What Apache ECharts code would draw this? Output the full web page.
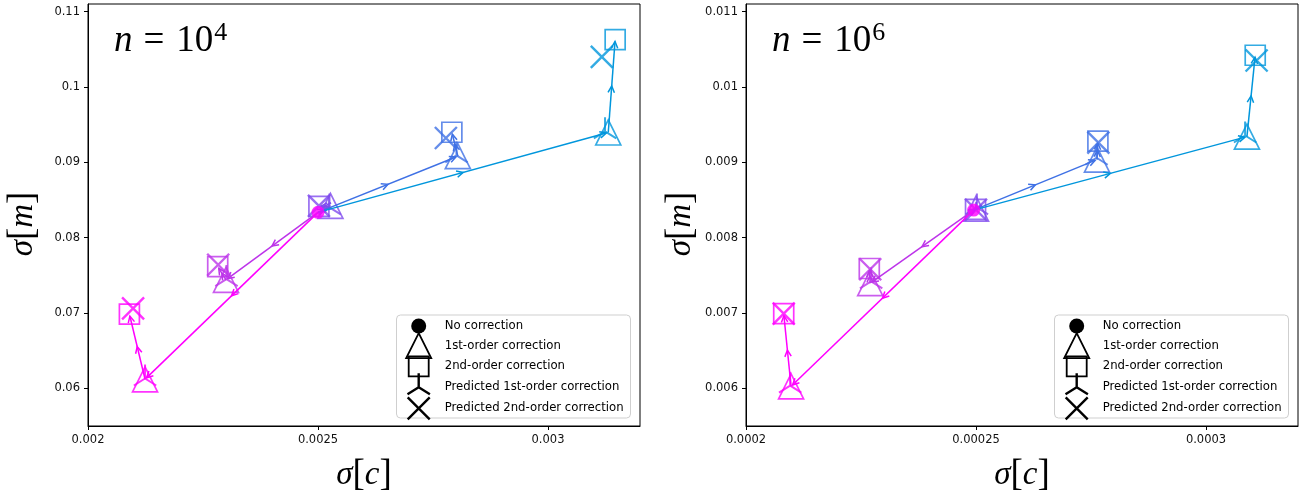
<!DOCTYPE html>
<html>
<head>
<meta charset="utf-8">
<script src="https://cdn.jsdelivr.net/npm/echarts@6/dist/echarts.min.js"></script>
<style>
  html, body { margin: 0; padding: 0; background: #fff; }
  #chart { width: 1307px; height: 496px; }
</style>
</head>
<body>
<div id="chart"></div>
<script>
// One colour per run, from magenta to blue
const runColors = ['#ff00ff', '#bd34ea', '#7f4bee', '#3f71e5', '#0096dc'];

const seriesNames = [
  'No correction',
  '1st-order correction',
  '2nd-order correction',
  'Predicted 1st-order correction',
  'Predicted 2nd-order correction'
];

// ---- n = 10^4 : points are [sigma_c, sigma_m] ----
const noCorrection4 = [0.002500, 0.08335];
const firstOrder4 = [
  [0.002124, 0.06120],
  [0.002300, 0.07440],
  [0.002527, 0.08420],
  [0.002804, 0.09080],
  [0.003131, 0.09395]
];
const secondOrder4 = [
  [0.002090, 0.06985],
  [0.002282, 0.07615],
  [0.002502, 0.08415],
  [0.002791, 0.09398],
  [0.003146, 0.10628]
];
const predFirst4 = [
  [0.002124, 0.06130],
  [0.002301, 0.07450],
  [0.002525, 0.08400],
  [0.002801, 0.09090],
  [0.003124, 0.09410]
];
const predSecond4 = [
  [0.002098, 0.07060],
  [0.002283, 0.07640],
  [0.002502, 0.08420],
  [0.002778, 0.09322],
  [0.003117, 0.10398]
];

// ---- n = 10^6 ----
const noCorrection6 = [0.0002495, 0.008365];
const firstOrder6 = [
  [0.0002098, 0.006025],
  [0.0002270, 0.007395],
  [0.0002500, 0.008385],
  [0.0002763, 0.009035],
  [0.0003089, 0.009340]
];
const secondOrder6 = [
  [0.0002082, 0.006990],
  [0.0002268, 0.007590],
  [0.0002499, 0.008375],
  [0.0002765, 0.009280],
  [0.0003107, 0.010420]
];
const predFirst6 = [
  [0.0002096, 0.006035],
  [0.0002272, 0.007420],
  [0.0002502, 0.008400],
  [0.0002762, 0.009060],
  [0.0003085, 0.009355]
];
const predSecond6 = [
  [0.0002082, 0.006990],
  [0.0002270, 0.007580],
  [0.0002500, 0.008370],
  [0.0002766, 0.009260],
  [0.0003110, 0.010350]
];

// Axis limits and tick values
const xRange4 = [0.002, 0.0032];
const yRange4 = [0.055, 0.111];
const xTicks4 = [0.002, 0.0025, 0.003];
const yTicks4 = [0.06, 0.07, 0.08, 0.09, 0.1, 0.11];

const xRange6 = [0.0002, 0.00032];
const yRange6 = [0.0055, 0.0111];
const xTicks6 = [0.0002, 0.00025, 0.0003];
const yTicks6 = [0.006, 0.007, 0.008, 0.009, 0.01, 0.011];

// Marker shapes drawn in a 28x28 box centred on the point
const ICON = {
  dot:  'path://M0,0M28,28M21.5,14A7.5,7.5,0,1,1,6.5,14A7.5,7.5,0,1,1,21.5,14Z',
  tri:  'path://M0,0M28,28M14,1.5L26.5,26.5L1.5,26.5Z',
  sq:   'path://M0,0M28,28M4,4L24,4L24,24L4,24Z',
  triDown: 'path://M0,0M28,28M14,14L14,0M14,14L25.2,21M14,14L2.8,21',
  cross: 'path://M0,0M28,28M3,3L25,25M25,3L3,25'
};

const fmt = v => String(+(+v).toPrecision(6));

// Line from start to end with open arrow heads at the middle and the end
function renderArrow(params, api) {
  const a = api.coord([api.value(0), api.value(1)]);
  const b = api.coord([api.value(2), api.value(3)]);
  const color = api.visual('color');
  const dx = b[0] - a[0], dy = b[1] - a[1];
  const len = Math.hypot(dx, dy) || 1;
  const ux = dx / len, uy = dy / len;
  const shrink = Math.min(2, len / 4);
  const end = [b[0] - ux * shrink, b[1] - uy * shrink];
  const mid = [(a[0] + b[0]) / 2, (a[1] + b[1]) / 2];
  const L = 6.5, W = 3.2;
  const head = tip => [
    [tip[0] - ux * L - uy * W, tip[1] - uy * L + ux * W],
    tip,
    [tip[0] - ux * L + uy * W, tip[1] - uy * L - ux * W]
  ];
  const style = { stroke: color, lineWidth: 1.5, fill: 'none' };
  return {
    type: 'group',
    children: [
      { type: 'line', shape: { x1: a[0], y1: a[1], x2: end[0], y2: end[1] }, style },
      { type: 'polyline', shape: { points: head(mid) }, style },
      { type: 'polyline', shape: { points: head(end) }, style }
    ]
  };
}

const serif = 'Liberation Serif';
const nameRich = {
  i: { fontFamily: serif, fontStyle: 'italic', fontSize: 33, color: '#000' },
  b: { fontFamily: serif, fontSize: 37, color: '#000' }
};

function axisBase(range, ticks) {
  return {
    type: 'value',
    min: range[0],
    max: range[1],
    axisLine: { show: true, onZero: false, lineStyle: { color: '#000', width: 1 } },
    axisTick: { show: true, inside: false, length: 4, customValues: ticks, lineStyle: { color: '#000', width: 1 } },
    splitLine: { show: false },
    axisLabel: { customValues: ticks, color: '#111', fontFamily: 'DejaVu Sans', fontSize: 11.5, formatter: fmt },
    nameLocation: 'middle'
  };
}

const panels = [
  { nc: noCorrection4, f: firstOrder4, s: secondOrder4, p1: predFirst4, p2: predSecond4,
    xr: xRange4, yr: yRange4, xt: xTicks4, yt: yTicks4, exp: '4' },
  { nc: noCorrection6, f: firstOrder6, s: secondOrder6, p1: predFirst6, p2: predSecond6,
    xr: xRange6, yr: yRange6, xt: xTicks6, yt: yTicks6, exp: '6' }
];

const gridLefts = [88, 746];
const grids = [], xAxes = [], yAxes = [], series = [], titles = [], legends = [], frames = [];

const legendData = [
  { name: seriesNames[0], icon: ICON.dot, itemStyle: { color: '#000', borderWidth: 0, opacity: 1 } },
  { name: seriesNames[1], icon: ICON.tri, itemStyle: { color: 'transparent', borderColor: '#000', borderWidth: 1.8, opacity: 1 } },
  { name: seriesNames[2], icon: ICON.sq, itemStyle: { color: 'transparent', borderColor: '#000', borderWidth: 1.8, opacity: 1 } },
  { name: seriesNames[3], icon: ICON.triDown, itemStyle: { color: 'transparent', borderColor: '#000', borderWidth: 2.4, opacity: 1 } },
  { name: seriesNames[4], icon: ICON.cross, itemStyle: { color: 'transparent', borderColor: '#000', borderWidth: 2.4, opacity: 1 } }
];

panels.forEach((p, k) => {
  const gl = gridLefts[k];
  grids.push({
    left: gl, top: 4, width: 552, height: 422,
    outerBoundsMode: 'none', containLabel: false,
    show: true, borderColor: '#000', borderWidth: 1, backgroundColor: 'transparent'
  });

  xAxes.push(Object.assign(axisBase(p.xr, p.xt), {
    gridIndex: k, name: '{i|σ}{b|[}{i|c}{b|]}', nameGap: 31,
    nameTextStyle: { rich: nameRich }
  }));
  yAxes.push(Object.assign(axisBase(p.yr, p.yt), {
    gridIndex: k, name: '{i|σ}{b|[}{i|m}{b|]}', nameGap: 46,
    nameTextStyle: { rich: nameRich, padding: [0, 18, 0, 0] }
  }));

  const hollow = (arr) => arr.map((pt, i) => ({ value: pt, itemStyle: { borderColor: runColors[i] } }));
  const base = { type: 'scatter', xAxisIndex: k, yAxisIndex: k, silent: true, symbolSize: 28,
    itemStyle: { color: 'transparent', borderWidth: 1.7 }, emphasis: { disabled: true } };

  series.push(Object.assign({}, base, { name: seriesNames[1], symbol: ICON.tri, data: hollow(p.f), z: 2 }));
  series.push(Object.assign({}, base, { name: seriesNames[2], symbol: ICON.sq, data: hollow(p.s), z: 2 }));
  series.push(Object.assign({}, base, { name: seriesNames[3], symbol: ICON.triDown, data: hollow(p.p1), z: 2,
    itemStyle: { color: 'transparent', borderWidth: 2 } }));
  series.push(Object.assign({}, base, { name: seriesNames[4], symbol: ICON.cross, data: hollow(p.p2), z: 2,
    itemStyle: { color: 'transparent', borderWidth: 2.4 } }));

  // arrows: no correction -> 1st order -> 2nd order, for every run
  const arrows = [];
  p.f.forEach((pt, i) => {
    arrows.push({ value: [p.nc[0], p.nc[1], pt[0], pt[1]], itemStyle: { color: runColors[i] } });
    arrows.push({ value: [pt[0], pt[1], p.s[i][0], p.s[i][1]], itemStyle: { color: runColors[i] } });
  });
  series.push({
    type: 'custom', name: 'arrows', xAxisIndex: k, yAxisIndex: k, silent: true, z: 3,
    renderItem: renderArrow, encode: { x: [0, 2], y: [1, 3] }, data: arrows
  });

  series.push(Object.assign({}, base, { name: seriesNames[0], symbol: 'circle', symbolSize: 13, z: 4,
    itemStyle: { color: runColors[0] }, data: [p.nc] }));

  titles.push({
    text: '{n|n}{e|=}{t|10}{s|' + p.exp + '}',
    left: gl + 21, top: 15,
    textStyle: {
      rich: {
        n: { fontFamily: serif, fontStyle: 'italic', fontSize: 37, lineHeight: 42, color: '#000', fontWeight: 'normal' },
        e: { fontFamily: serif, fontSize: 37, lineHeight: 42, color: '#000', fontWeight: 'normal', padding: [0, 12, 0, 11] },
        t: { fontFamily: serif, fontSize: 37, lineHeight: 42, color: '#000', fontWeight: 'normal' },
        s: { fontFamily: serif, fontSize: 26, lineHeight: 26, verticalAlign: 'top', color: '#000', fontWeight: 'normal', padding: [0, 0, 0, 1] }
      }
    }
  });

  const boxX = gl + 552 - 9.5 - 234;
  frames.push({
    type: 'rect', silent: true, z: 6,
    shape: { x: boxX, y: 315, width: 234, height: 103, r: 4 },
    style: { fill: 'rgba(255,255,255,0.85)', stroke: '#cfcfcf', lineWidth: 1 }
  });
  legends.push({
    orient: 'vertical', left: boxX + 7, top: 312, z: 10,
    itemWidth: 42, itemHeight: 28, itemGap: -9.2, padding: 0,
    selectedMode: false,
    textStyle: { fontFamily: 'DejaVu Sans', fontSize: 11.7, color: '#000' },
    data: legendData
  });
});

const chart = echarts.init(document.getElementById('chart'), null, { renderer: 'canvas' });
chart.setOption({
  animation: false,
  backgroundColor: '#fff',
  title: titles,
  grid: grids,
  xAxis: xAxes,
  yAxis: yAxes,
  legend: legends,
  graphic: frames,
  series: series
});
</script>
</body>
</html>
